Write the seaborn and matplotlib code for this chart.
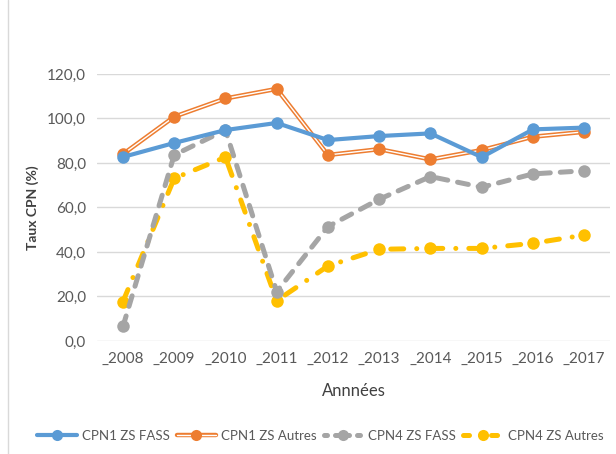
import matplotlib
matplotlib.use('Agg')
import matplotlib.pyplot as plt
import seaborn as sns
import pandas as pd
from matplotlib.lines import Line2D
from matplotlib.legend_handler import HandlerTuple

# Data
years = ['_2008', '_2009', '_2010', '_2011', '_2012', '_2013', '_2014', '_2015', '_2016', '_2017']
cpn1_fass = [82.7, 89.0, 94.8, 98.0, 90.3, 92.1, 93.3, 82.6, 95.1, 95.9]
cpn1_autres = [84.0, 100.8, 109.0, 113.3, 83.6, 86.2, 81.6, 85.8, 91.8, 94.0]
cpn4_fass = [6.5, 83.6, 94.8, 22.2, 51.4, 63.7, 73.9, 69.1, 75.1, 76.5]
cpn4_autres = [17.7, 73.1, 82.6, 18.1, 33.7, 41.2, 41.6, 41.6, 43.9, 47.6]

df = pd.DataFrame({'year': years, 'x': range(len(years)),
                   'CPN1 ZS FASS': cpn1_fass, 'CPN1 ZS Autres': cpn1_autres,
                   'CPN4 ZS FASS': cpn4_fass, 'CPN4 ZS Autres': cpn4_autres})

sns.set_style('white')
plt.rcParams['font.family'] = ['Lato', 'DejaVu Sans']

blue, orange, gray, yellow = '#5B9BD5', '#ED7D31', '#A5A5A5', '#FFC000'
yel_dash = [2.6, 2.6, 0.01, 2.6]
gray_dash = [2.2, 2.0]

fig = plt.figure(figsize=(6.16, 4.54), dpi=100)
ax = fig.add_axes([0.158, 0.249, 0.832, 0.588])

# CPN4 lines drawn first (behind)
sns.lineplot(data=df, x='x', y='CPN4 ZS Autres', ax=ax, color=yellow, lw=3.6,
             marker='o', markersize=9, markeredgewidth=0, zorder=3)
ax.lines[-1].set_dashes(yel_dash)
ax.lines[-1].set_dash_capstyle('round')
sns.lineplot(data=df, x='x', y='CPN4 ZS FASS', ax=ax, color=gray, lw=3.6,
             marker='o', markersize=9, markeredgewidth=0, zorder=3)
ax.lines[-1].set_dashes(gray_dash)
ax.lines[-1].set_dash_capstyle('round')

# CPN1 ZS Autres: double orange line
sns.lineplot(data=df, x='x', y='CPN1 ZS Autres', ax=ax, color=orange, lw=3.2, zorder=4)
sns.lineplot(data=df, x='x', y='CPN1 ZS Autres', ax=ax, color='white', lw=1.0, zorder=4)
sns.lineplot(data=df, x='x', y='CPN1 ZS Autres', ax=ax, color=orange, lw=0,
             marker='o', markersize=9, markeredgewidth=0, zorder=5)

sns.lineplot(data=df, x='x', y='CPN1 ZS FASS', ax=ax, color=blue, lw=3,
             marker='o', markersize=9, markeredgewidth=0, zorder=6)

for ln in ax.lines:
    ln.set_clip_on(False)

ax.set_xlim(-0.5, len(years) - 0.5)
ax.set_ylim(0, 120)
ax.set_yticks(range(0, 121, 20))
ax.set_yticklabels([f'{v},0' for v in range(0, 121, 20)], fontsize=11, color='#595959')
ax.set_xticks(range(len(years)))
ax.set_xticklabels(years, fontsize=11, color='#595959')
ax.tick_params(axis='both', length=0, pad=8)
ax.yaxis.grid(True, color='#D9D9D9', lw=1)
ax.set_axisbelow(True)
for s in ax.spines.values():
    s.set_visible(False)

ax.set_xlabel('Annnées', fontsize=12, color='#404040', labelpad=12)
ax.set_ylabel('Taux CPN (%)', fontsize=10, fontweight='bold', color='#404040', labelpad=6)

# legend
h1 = Line2D([], [], color=blue, lw=3, marker='o', markersize=8, markeredgewidth=0)
h2 = (Line2D([], [], color=orange, lw=3.2),
      Line2D([], [], color='white', lw=1.0),
      Line2D([], [], color=orange, lw=0, marker='o', markersize=8, markeredgewidth=0))
h3 = Line2D([], [], color=gray, lw=3.6, marker='o', markersize=8, markeredgewidth=0,
            dashes=[0.6, 1.6], dash_capstyle='round')
h4 = Line2D([], [], color=yellow, lw=3.6, marker='o', markersize=8, markeredgewidth=0,
            dashes=[1.2, 2.2, 0.01, 2.2], dash_capstyle='round')
fig.legend([h1, h2, h3, h4], ['CPN1 ZS FASS', 'CPN1 ZS Autres', 'CPN4 ZS FASS', 'CPN4 ZS Autres'],
           handler_map={tuple: HandlerTuple(ndivide=1, pad=0)},
           loc='center', bbox_to_anchor=(0.52, 0.04), ncol=4, frameon=False,
           fontsize=9.5, handlelength=3.0, columnspacing=0.5, handletextpad=0.4,
           labelcolor='#595959')

# thin frame line at the left edge of the image
fig.add_artist(Line2D([0.013, 0.013], [0.0, 1.0], color='#D9D9D9', lw=1))

fig.savefig('out.png', dpi=100)
